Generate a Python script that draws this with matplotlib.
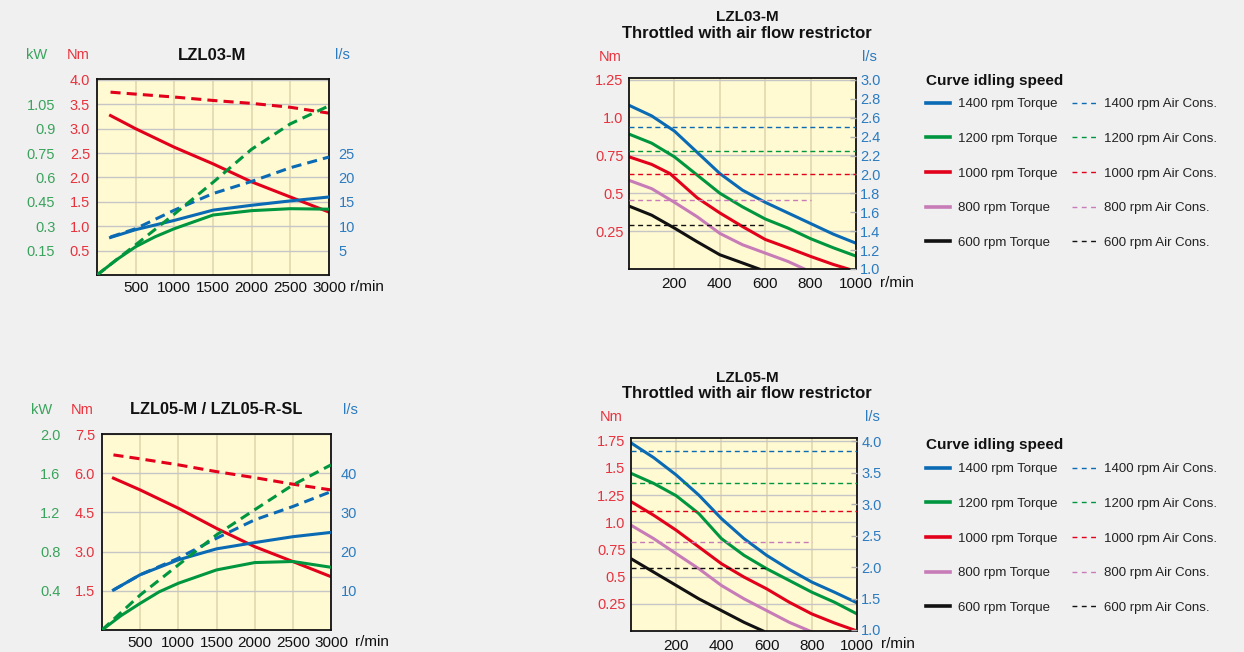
import matplotlib.pyplot as plt
from matplotlib.lines import Line2D

# ---------------- data ----------------
# LZL03-M (full air, r/min 0..3000)
l03_rpm = [175, 500, 1000, 1500, 2000, 2500, 3000]
l03_stall_nm = [3.75, 3.71, 3.65, 3.58, 3.52, 3.44, 3.32]
l03_torque_nm = [3.27, 3.00, 2.62, 2.28, 1.91, 1.60, 1.29]
l03_air_max_ls = [7.8, 9.5, 13.3, 16.7, 19.2, 22.0, 24.2]
l03_air_ls = [7.7, 9.3, 11.2, 13.3, 14.3, 15.2, 16.0]
l03_rpm_p = [0, 250, 500, 750, 1000, 1500, 2000, 2500, 3000]
l03_power_kw = [0, 0.093, 0.174, 0.235, 0.285, 0.369, 0.396, 0.408, 0.405]
l03_power_max_kw = [0, 0.093, 0.186, 0.28, 0.375, 0.57, 0.774, 0.93, 1.041]

# LZL05-M / LZL05-R-SL
l05_rpm = [150, 500, 1000, 1500, 2000, 2500, 3000]
l05_stall_nm = [6.70, 6.55, 6.32, 6.06, 5.83, 5.58, 5.36]
l05_torque_nm = [5.81, 5.36, 4.66, 3.89, 3.19, 2.62, 2.04]
l05_air_max_ls = [10.2, 14.1, 18.3, 23.4, 28.1, 31.5, 35.3]
l05_air_ls = [10.2, 14.1, 17.9, 20.7, 22.3, 23.8, 24.9]
l05_rpm_p = [0, 250, 500, 750, 1000, 1500, 2000, 2500, 3000]
l05_power_kw = [0, 0.147, 0.272, 0.39, 0.477, 0.613, 0.688, 0.699, 0.640]
l05_power_max_kw = [0, 0.179, 0.357, 0.51, 0.664, 0.971, 1.227, 1.48, 1.685]

# throttled charts
idle_speeds = [1400, 1200, 1000, 800, 600]
rpm_full = [0, 100, 200, 300, 400, 500, 600, 700, 800, 900, 1000]

t03_torque = [
    (rpm_full, [1.08, 1.01, 0.91, 0.77, 0.63, 0.52, 0.44, 0.37, 0.30, 0.23, 0.17]),
    (rpm_full, [0.89, 0.83, 0.74, 0.62, 0.50, 0.41, 0.33, 0.27, 0.20, 0.14, 0.085]),
    ([0, 100, 180, 300, 400, 500, 600, 700, 800, 900, 966],
     [0.74, 0.69, 0.63, 0.47, 0.37, 0.28, 0.195, 0.14, 0.083, 0.03, 0.0]),
    ([0, 100, 200, 300, 400, 500, 600, 700, 773],
     [0.585, 0.53, 0.44, 0.345, 0.235, 0.16, 0.105, 0.05, 0.0]),
    ([0, 100, 200, 300, 400, 500, 573],
     [0.415, 0.355, 0.27, 0.18, 0.094, 0.04, 0.0]),
]
t03_air = [2.50, 2.25, 2.00, 1.73, 1.47]

t05_torque = [
    (rpm_full, [1.73, 1.595, 1.435, 1.25, 1.034, 0.85, 0.696, 0.567, 0.45, 0.357, 0.259]),
    (rpm_full, [1.45, 1.358, 1.244, 1.08, 0.85, 0.696, 0.573, 0.465, 0.357, 0.265, 0.157]),
    (rpm_full, [1.19, 1.065, 0.927, 0.773, 0.619, 0.496, 0.388, 0.265, 0.157, 0.074, 0.0]),
    ([0, 100, 200, 300, 400, 500, 600, 700, 791],
     [0.973, 0.85, 0.711, 0.573, 0.419, 0.296, 0.188, 0.08, 0.0]),
    ([0, 100, 200, 300, 400, 500, 585],
     [0.665, 0.542, 0.419, 0.296, 0.188, 0.08, 0.0]),
]
t05_air = [3.85, 3.34, 2.89, 2.40, 1.99]

# ---------------- style ----------------
W, H = 1244, 652
BG = '#f0f0f0'
FACE = '#fffad2'
RED, GREEN, BLUE = '#e2001a', '#00963f', '#0a6ab4'
PINK, BLACK = '#c77cb8', '#111111'
RED_T, GREEN_T, BLUE_T = '#e8323c', '#3aa35c', '#2b7bc0'
speed_colors = [BLUE, GREEN, RED, PINK, BLACK]

plt.rcParams['font.family'] = ['Liberation Sans', 'DejaVu Sans']
fig = plt.figure(figsize=(W / 100, H / 100), dpi=100, facecolor=BG)


def box(l, t, r, b):
    return [l / W, 1 - b / H, (r - l) / W, (b - t) / H]


def ftext(x, y, s, **kw):
    kw.setdefault('va', 'center')
    fig.text(x / W, 1 - y / H, s, **kw)


def base_axes(rect, xlim, xticks, ylim, yticks, ylabels, left_pad, xpad=4):
    ax = fig.add_axes(rect, facecolor=FACE)
    ax.set_xlim(*xlim)
    ax.set_xticks(xticks)
    ax.set_ylim(*ylim)
    ax.set_yticks(yticks)
    ax.set_yticklabels(ylabels)
    ax.tick_params(axis='y', length=0, pad=left_pad, labelcolor=RED_T, labelsize=10.5)
    ax.tick_params(axis='x', length=0, pad=xpad, labelsize=11, labelcolor='#111111')
    ax.xaxis.grid(True, color='#e4dab2', lw=1.3)
    ax.yaxis.grid(True, color='#c6c6c6', lw=1.0)
    ax.set_axisbelow(True)
    for sp in ax.spines.values():
        sp.set_color('#111111')
        sp.set_linewidth(1.3)
    return ax


def right_axis(ax, ylim, ticks, labels, pad, tick_len):
    axr = ax.twinx()
    axr.set_ylim(*ylim)
    axr.set_yticks(ticks)
    axr.set_yticklabels(labels)
    axr.tick_params(axis='y', direction='in', length=tick_len, width=1,
                    color='#b0b0b0', pad=pad, labelcolor=BLUE_T, labelsize=10.5)
    for sp in axr.spines.values():
        sp.set_visible(False)
    return axr


def kw_axis(ax, ylim, ticks, labels, pad):
    axk = ax.twinx()
    axk.yaxis.tick_left()
    axk.set_ylim(*ylim)
    axk.set_yticks(ticks)
    axk.set_yticklabels(labels)
    axk.tick_params(axis='y', length=0, pad=pad, labelcolor=GREEN_T, labelsize=10.5)
    for sp in axk.spines.values():
        sp.set_visible(False)
    return axk


thick_dash = (0, (3.3, 2.0))
thin_dash = (0, (3.6, 2.6))

# ---------------- LZL03-M ----------------
ax = base_axes(box(97, 79, 329, 275), (0, 3000), [500, 1000, 1500, 2000, 2500, 3000],
               (0, 4.02), [0.5, 1, 1.5, 2, 2.5, 3, 3.5, 4],
               ['0.5', '1.0', '1.5', '2.0', '2.5', '3.0', '3.5', '4.0'], 5)
ax.plot(l03_rpm, l03_stall_nm, color=RED, lw=2.2, ls=thick_dash)
ax.plot(l03_rpm, l03_torque_nm, color=RED, lw=2.2)
axr = right_axis(ax, (0, 40.2), [5, 10, 15, 20, 25], ['5', '10', '15', '20', '25'], 7, 0)
axr.plot(l03_rpm, l03_air_max_ls, color=BLUE, lw=2.2, ls=thick_dash)
axr.plot(l03_rpm, l03_air_ls, color=BLUE, lw=2.2)
axk = kw_axis(ax, (0, 1.206), [0.15, 0.3, 0.45, 0.6, 0.75, 0.9, 1.05],
              ['0.15', '0.3', '0.45', '0.6', '0.75', '0.9', '1.05'], 30)
axk.plot(l03_rpm_p, l03_power_max_kw, color=GREEN, lw=2.2, ls=thick_dash)
axk.plot(l03_rpm_p, l03_power_kw, color=GREEN, lw=2.2)

ftext(26, 55, 'kW', color=GREEN_T, fontsize=10.5)
ftext(67, 55, 'Nm', color=RED_T, fontsize=10.5)
ftext(212, 55, 'LZL03-M', ha='center', fontsize=12, fontweight='bold', color='#111111')
ftext(335, 55, 'l/s', color=BLUE_T, fontsize=10.5)
ftext(350, 287, 'r/min', fontsize=11, color='#111111')

# ---------------- LZL05-M ----------------
ax = base_axes(box(102, 434, 331, 630), (0, 3000), [500, 1000, 1500, 2000, 2500, 3000],
               (0, 7.5), [1.5, 3.0, 4.5, 6.0, 7.5],
               ['1.5', '3.0', '4.5', '6.0', '7.5'], 5)
ax.plot(l05_rpm, l05_stall_nm, color=RED, lw=2.2, ls=thick_dash)
ax.plot(l05_rpm, l05_torque_nm, color=RED, lw=2.2)
axr = right_axis(ax, (0, 50), [10, 20, 30, 40], ['10', '20', '30', '40'], 7, 0)
axr.plot(l05_rpm, l05_air_max_ls, color=BLUE, lw=2.2, ls=thick_dash)
axr.plot(l05_rpm, l05_air_ls, color=BLUE, lw=2.2)
axk = kw_axis(ax, (0, 2.0), [0.4, 0.8, 1.2, 1.6, 2.0],
              ['0.4', '0.8', '1.2', '1.6', '2.0'], 30)
axk.plot(l05_rpm_p, l05_power_max_kw, color=GREEN, lw=2.2, ls=thick_dash)
axk.plot(l05_rpm_p, l05_power_kw, color=GREEN, lw=2.2)

ftext(31, 410, 'kW', color=GREEN_T, fontsize=10.5)
ftext(71, 410, 'Nm', color=RED_T, fontsize=10.5)
ftext(216, 410, 'LZL05-M / LZL05-R-SL', ha='center', fontsize=11.8, fontweight='bold', color='#111111')
ftext(343, 410, 'l/s', color=BLUE_T, fontsize=10.5)
ftext(355, 642, 'r/min', fontsize=11, color='#111111')


# ---------------- throttled charts ----------------
def throttle_chart(rect, curves, air, nm_ylim, nm_ticks, nm_labels, ls_ylim, ls_ticks, ls_labels):
    ax = base_axes(rect, (0, 1000), [200, 400, 600, 800, 1000], nm_ylim, nm_ticks, nm_labels, 4,
                   xpad=6)
    for (rpm, tq), c in zip(curves, speed_colors):
        ax.plot(rpm, tq, color=c, lw=2.2)
    axr = right_axis(ax, ls_ylim, ls_ticks, ls_labels, 3, 4)
    for lev, idle, c in zip(air, idle_speeds, speed_colors):
        axr.plot([0, idle], [lev, lev], color=c, lw=1.0, ls=thin_dash)
    return ax


throttle_chart(box(629, 78, 856, 269), t03_torque, t03_air,
               (0, 1.26), [0.25, 0.5, 0.75, 1.0, 1.25], ['0.25', '0.5', '0.75', '1.0', '1.25'],
               (1.0, 3.02), [1.0 + 0.2 * i for i in range(11)],
               ['%.1f' % (1.0 + 0.2 * i) for i in range(11)])
ftext(747, 17, 'LZL03-M', ha='center', fontsize=11, fontweight='bold', color='#111111')
ftext(747, 33, 'Throttled with air flow restrictor', ha='center', fontsize=12,
      fontweight='bold', color='#111111')
ftext(599, 57, 'Nm', color=RED_T, fontsize=10.5)
ftext(862, 57, 'l/s', color=BLUE_T, fontsize=10.5)
ftext(880, 283, 'r/min', fontsize=11, color='#111111')

throttle_chart(box(631, 438, 857, 631), t05_torque, t05_air,
               (0, 1.775), [0.25, 0.5, 0.75, 1.0, 1.25, 1.5, 1.75],
               ['0.25', '0.5', '0.75', '1.0', '1.25', '1.5', '1.75'],
               (0.984, 4.05), [1.0, 1.5, 2.0, 2.5, 3.0, 3.5, 4.0],
               ['1.0', '1.5', '2.0', '2.5', '3.0', '3.5', '4.0'])
ftext(747, 378, 'LZL05-M', ha='center', fontsize=11, fontweight='bold', color='#111111')
ftext(747, 394, 'Throttled with air flow restrictor', ha='center', fontsize=12,
      fontweight='bold', color='#111111')
ftext(600, 417, 'Nm', color=RED_T, fontsize=10.5)
ftext(865, 417, 'l/s', color=BLUE_T, fontsize=10.5)
ftext(881, 644, 'r/min', fontsize=11, color='#111111')


# ---------------- legends ----------------
def speed_legend(x, y_title, y_top):
    ftext(x, y_title, 'Curve idling speed', fontsize=11, fontweight='bold', color='#111111')
    handles = [Line2D([], [], color=c, lw=2.6) for c in speed_colors]
    handles += [Line2D([], [], color=c, lw=1.0, ls=(0, (3.5, 3.2))) for c in speed_colors]
    labels = ['%d rpm Torque' % s for s in idle_speeds]
    labels += ['%d rpm Air Cons.' % s for s in idle_speeds]
    fig.legend(handles, labels, loc='upper left', bbox_to_anchor=(x / W, 1 - y_top / H),
               ncol=2, frameon=False, handlelength=1.8, handletextpad=0.6,
               columnspacing=1.15, labelspacing=1.7, fontsize=9.5, borderpad=0,
               borderaxespad=0, labelcolor='#222222')


speed_legend(926, 81, 98)
speed_legend(926, 445, 463)

fig.savefig('out.png', dpi=100, facecolor=BG)
